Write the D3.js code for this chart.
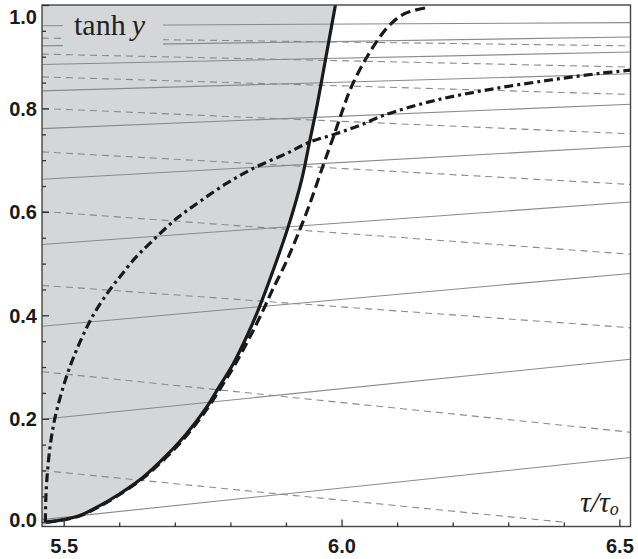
<!DOCTYPE html>
<html><head><meta charset="utf-8">
<script src="https://cdn.jsdelivr.net/npm/d3@7"></script>
<style>html,body{margin:0;padding:0;background:#fff;}svg{display:block;}</style>
</head><body>
<svg id="chart" width="638" height="559"></svg>
<script>
// ---- data ----
const xDomain = [5.461, 6.52];
const yDomain = [-0.0083, 1.0];
const xMajorTicks = [5.5, 6.0, 6.5];
const xMinorTicks = [5.6, 5.7, 5.8, 5.9, 6.1, 6.2, 6.3, 6.4];
const yMajorTicks = [0.0, 0.2, 0.4, 0.6, 0.8, 1.0];
const yMinorTicks = [0.05, 0.1, 0.15, 0.25, 0.3, 0.35, 0.45, 0.5, 0.55, 0.65, 0.7, 0.75, 0.85, 0.9, 0.95];
const xTickLabels = ["5.5", "6.0", "6.5"];
const yTickLabels = ["0.0", "0.2", "0.4", "0.6", "0.8", "1.0"];

// boundary curve (solid thick), [tau, tanh y]
const boundaryCurve = [[5.468,0],[5.50,0.005],[5.529,0.013],[5.565,0.032],[5.601,0.055],[5.643,0.087],[5.685,0.129],[5.721,0.171],[5.757,0.222],[5.781,0.264],[5.805,0.306],[5.829,0.358],[5.850,0.410],[5.877,0.487],[5.904,0.571],[5.928,0.661],[5.943,0.738],[5.956,0.806],[5.967,0.87],[5.978,0.935],[5.989,1.0]];
// thick dashed curve
const dashedCurve = [[5.468,0],[5.502,0.005],[5.531,0.013],[5.567,0.032],[5.603,0.055],[5.645,0.087],[5.688,0.129],[5.724,0.171],[5.760,0.222],[5.785,0.264],[5.809,0.306],[5.835,0.358],[5.859,0.410],[5.876,0.45],[5.899,0.50],[5.919,0.55],[5.941,0.61],[5.966,0.687],[5.988,0.753],[6.003,0.80],[6.017,0.84],[6.046,0.90],[6.083,0.957],[6.113,0.983],[6.154,0.995]];
// thick dash-dot curve
const dashDotCurve = [[5.467,0],[5.468,0.05],[5.471,0.10],[5.476,0.15],[5.484,0.20],[5.496,0.25],[5.511,0.30],[5.530,0.35],[5.553,0.40],[5.580,0.445],[5.601,0.474],[5.628,0.51],[5.655,0.539],[5.703,0.587],[5.745,0.62],[5.793,0.655],[5.841,0.684],[5.901,0.713],[5.943,0.735],[5.990,0.751],[6.032,0.767],[6.077,0.787],[6.166,0.815],[6.268,0.837],[6.376,0.855],[6.466,0.868],[6.52,0.874]];

// thin gray solid lines: value at left edge and at right edge
const thinSolidLeft  = [0.005, 0.199, 0.379, 0.537, 0.663, 0.761, 0.834, 0.885, 0.921, 0.960];
const thinSolidRight = [0.125, 0.315, 0.481, 0.619, 0.727, 0.808, 0.867, 0.909, 0.938, 0.966];
// thin gray dashed lines: value at left edge and at right end
const thinDashLeft  = [0.100, 0.291, 0.458, 0.601, 0.716, 0.800, 0.861, 0.905, 0.936];
const thinDashRight = [0.000, 0.174, 0.376, 0.518, 0.653, 0.751, 0.827, 0.880, 0.921];
const thinDashRightTau = [6.40, 6.52, 6.52, 6.52, 6.52, 6.52, 6.52, 6.52, 6.52];

// ---- layout ----
const svg = d3.select("#chart");
const x = d3.scaleLinear().domain(xDomain).range([42, 630.5]);
const y = d3.scaleLinear().domain(yDomain).range([526.5, 5]);
const line = d3.line().x(d => x(d[0])).y(d => y(d[1]));
const smooth = d3.line().x(d => x(d[0])).y(d => y(d[1])).curve(d3.curveCatmullRom.alpha(0.5));

svg.append("defs").append("clipPath").attr("id","plotclip")
  .append("rect").attr("x", x(xDomain[0])).attr("y", y(yDomain[1]))
  .attr("width", x(xDomain[1]) - x(xDomain[0])).attr("height", y(yDomain[0]) - y(yDomain[1]));

const g = svg.append("g").attr("clip-path","url(#plotclip)");

// shaded region left of boundary
const boundaryPath = smooth(boundaryCurve);
const fillD = `M${x(xDomain[0])},${y(yDomain[0])}L${x(boundaryCurve[0][0])},${y(yDomain[0])}L` +
  boundaryPath.slice(1) + `L${x(xDomain[0])},${y(yDomain[1])}Z`;
g.append("path").attr("d", fillD).attr("fill", "#d5d6d8").attr("stroke", "none");

// thin solid lines
thinSolidLeft.forEach((v, i) => {
  g.append("path").attr("d", line([[xDomain[0], v], [xDomain[1], thinSolidRight[i]]]))
    .attr("fill","none").attr("stroke","#8a8a8a").attr("stroke-width",1.1);
});
// thin dashed lines
thinDashLeft.forEach((v, i) => {
  g.append("path").attr("d", line([[xDomain[0], v], [thinDashRightTau[i], thinDashRight[i]]]))
    .attr("fill","none").attr("stroke","#8a8a8a").attr("stroke-width",1.1)
    .attr("stroke-dasharray","7,5");
});

// label box for tanh y
svg.append("rect").attr("x", 63).attr("y", 5.5).attr("width", 100).attr("height", 44)
  .attr("fill", "#d5d6d8");
const lab = svg.append("text").attr("x", 74).attr("y", 35)
  .attr("font-family", "'Liberation Serif','Times New Roman',serif")
  .attr("font-size", 30).attr("fill", "#222");
lab.append("tspan").text("tanh\u2009");
lab.append("tspan").attr("font-style","italic").text("y");

// thick curves
g.append("path").attr("d", boundaryPath).attr("fill","none")
  .attr("stroke","#1a1a1a").attr("stroke-width",3.2);
g.append("path").attr("d", smooth(dashedCurve)).attr("fill","none")
  .attr("stroke","#1a1a1a").attr("stroke-width",3.2).attr("stroke-dasharray","10,5");
g.append("path").attr("d", smooth(dashDotCurve)).attr("fill","none")
  .attr("stroke","#1a1a1a").attr("stroke-width",3.2).attr("stroke-dasharray","9,4,3,4");

// axis label tau/tau_o
const tl = svg.append("text").attr("x", 580).attr("y", 512)
  .attr("font-family", "'Liberation Serif','Times New Roman',serif")
  .attr("font-style","italic").attr("font-size", 30).attr("fill", "#222");
tl.append("tspan").text("\u03C4/\u03C4");
tl.append("tspan").attr("font-size", 18).attr("dy", 3).text("o");

// frame
svg.append("rect").attr("x", x(xDomain[0])).attr("y", y(yDomain[1]))
  .attr("width", x(xDomain[1]) - x(xDomain[0])).attr("height", y(yDomain[0]) - y(yDomain[1]))
  .attr("fill","none").attr("stroke","#444").attr("stroke-width",1.4);

// axes with inward ticks
const axisB = d3.axisBottom(x).tickValues(xMajorTicks).tickSizeInner(-7).tickSizeOuter(0)
  .tickPadding(12).tickFormat((d, i) => xTickLabels[i]);
const gB = svg.append("g").attr("transform", `translate(0,${y(yDomain[0])})`).call(axisB);
const axisBm = d3.axisBottom(x).tickValues(xMinorTicks).tickSizeInner(-4).tickSizeOuter(0).tickFormat("");
const gBm = svg.append("g").attr("transform", `translate(0,${y(yDomain[0])})`).call(axisBm);

const axisL = d3.axisLeft(y).tickValues(yMajorTicks).tickSizeInner(-7).tickSizeOuter(0)
  .tickPadding(5).tickFormat((d, i) => yTickLabels[i]);
const gL = svg.append("g").attr("transform", `translate(${x(xDomain[0])},0)`).call(axisL);
const axisLm = d3.axisLeft(y).tickValues(yMinorTicks).tickSizeInner(-4).tickSizeOuter(0).tickFormat("");
const gLm = svg.append("g").attr("transform", `translate(${x(xDomain[0])},0)`).call(axisLm);

[gB, gBm, gL, gLm].forEach(a => {
  a.select(".domain").remove();
  a.selectAll("line").attr("stroke","#333").attr("stroke-width",1.3);
  a.selectAll("text").attr("font-family","'Liberation Sans',Arial,sans-serif")
    .attr("font-weight","bold").attr("font-size",20).attr("fill","#1a1a1a");
});
gL.selectAll("text").attr("dy","0.35em");
// keep top and bottom labels inside the picture, as in the reference
gL.selectAll("text").filter(d => d === 1.0).attr("y", 11);
gL.selectAll("text").filter(d => d === 0.0).attr("y", -3);
gB.selectAll("text").attr("dy","0.71em");
</script>
</body></html>
